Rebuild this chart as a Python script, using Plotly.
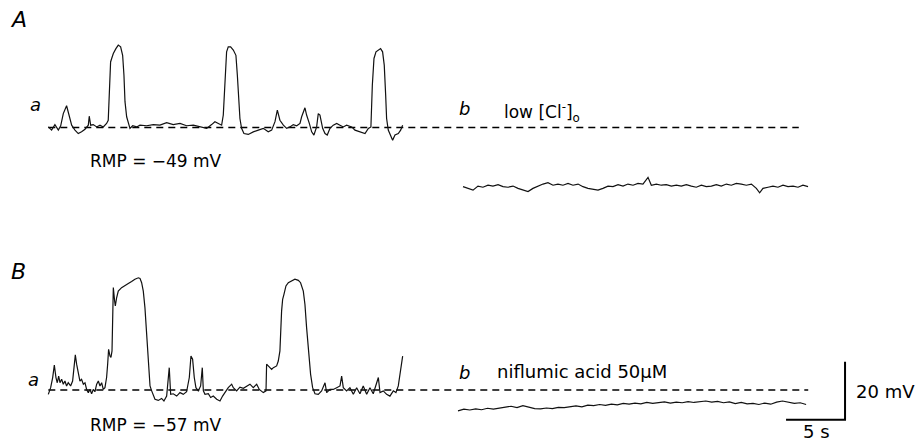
import plotly.graph_objects as go

# ---------------- data (time in s, membrane potential in mV relative to RMP) ----------------
rmp_A = -49
rmp_B = -57

t_Aa = [0.00, 0.28, 0.56, 0.85, 1.05, 1.27, 1.55, 1.78, 1.98, 2.26, 2.54, 2.82, 3.11, 3.39, 3.47, 3.59,
        3.81, 4.10, 4.38, 4.66, 4.94, 5.08, 5.17, 5.28, 5.37, 5.51, 5.73, 5.93, 6.13, 6.30, 6.41, 6.50,
        6.64, 6.78, 6.92, 7.15, 7.49, 7.77, 8.33, 8.90, 9.46, 10.03, 10.59, 11.16, 11.72, 12.29, 12.85,
        13.42, 13.84, 14.12, 14.41, 14.69, 14.83, 14.97, 15.11, 15.25, 15.45, 15.68, 15.90, 16.02, 16.13,
        16.24, 16.38, 16.58, 16.95, 17.37, 17.80, 18.22, 18.64, 18.93, 19.21, 19.41, 19.63, 19.92, 20.20,
        20.48, 20.76, 21.05, 21.33, 21.47, 21.75, 21.89, 22.12, 22.32, 22.51, 22.74, 22.88, 23.02, 23.25,
        23.45, 23.64, 23.87, 24.15, 24.44, 24.72, 25.00, 25.28, 25.71, 25.99, 26.41, 26.84, 27.12, 27.34,
        27.46, 27.60, 27.77, 27.97, 28.16, 28.33, 28.47, 28.59, 28.67, 28.81, 29.01, 29.18, 29.38, 29.66,
        29.86, 30.03]
v_Aa = [0.2, -0.9, 1.0, -0.9, 0.6, 4.8, 7.5, 4.3, 0.8, -0.9, -2.1, -1.5, -0.6, 0.8, 3.9, 0.8,
        1.0, 0.2, 0.8, 0.2, 1.4, 2.5, 11.2, 22.6, 23.8, 25.5, 27.2, 28.4, 27.8, 24.9, 18.1, 8.9,
        3.7, 1.4, -0.3, 0.6, 0.2, 0.8, 0.6, 1.0, 0.8, 1.7, 1.0, 1.4, 0.6, 0.8, 0.2,
        -0.3, 1.0, 2.0, 1.4, 0.8, 4.3, 18.1, 26.1, 27.8, 27.8, 26.7, 24.9, 18.1, 8.9,
        3.1, -0.3, -2.1, -2.4, -1.5, -0.9, -0.3, -1.5, -0.9, 2.0, 6.0, 2.5, 0.8, -0.3,
        0.2, 1.0, 0.6, 1.4, 3.7, 6.8, 4.3, 1.4, -1.5, -2.6, 0.2, 4.8, 4.3, -0.3,
        -2.1, -2.6, -0.3, 0.8, 1.4, 0.8, 0.2, 0.8, 0.2, -0.9, -1.5, -2.1, -0.3, 0.2,
        14.6, 23.8, 26.1, 26.7, 27.2, 26.1, 21.5, 11.2, 3.1, -0.9, -2.6, -4.4, -2.6, -2.1,
        -0.9, 0.8]

t_Ab = [0.00, 0.42, 0.85, 1.27, 1.69, 2.12, 2.54, 2.97, 3.39, 3.81, 4.24, 4.66, 5.08, 5.51, 5.93, 6.36,
        6.78, 7.20, 7.63, 8.05, 8.47, 8.90, 9.32, 9.75, 10.17, 10.59, 11.02, 11.44, 11.86, 12.29, 12.71,
        13.14, 13.56, 13.98, 14.41, 14.83, 15.25, 15.68, 15.96, 16.38, 16.81, 17.23, 17.66, 18.08, 18.50,
        18.93, 19.35, 19.77, 20.20, 20.62, 21.05, 21.47, 21.89, 22.32, 22.74, 23.16, 23.59, 24.01, 24.44,
        24.86, 25.14, 25.42, 25.85, 26.27, 26.69, 27.12, 27.54, 27.97, 28.39, 28.81, 29.24]
v_Ab = [-20.4, -21.0, -21.6, -20.2, -20.6, -19.9, -20.2, -19.7, -20.4, -20.6, -20.2, -21.0, -21.6, -22.1, -21.0, -20.2,
        -19.5, -19.0, -19.9, -19.5, -19.9, -19.3, -19.9, -19.5, -20.4, -21.0, -21.3, -21.6, -21.0, -20.2, -20.4,
        -19.7, -20.2, -19.5, -19.9, -19.3, -19.5, -17.2, -19.9, -19.5, -19.9, -19.7, -20.2, -19.9, -20.2,
        -19.7, -20.2, -20.6, -19.9, -20.4, -20.2, -19.7, -20.2, -19.5, -19.9, -19.3, -19.5, -19.9, -19.5,
        -21.0, -22.5, -21.0, -20.6, -20.2, -20.6, -19.9, -20.4, -20.2, -20.6, -19.9, -20.4]

t_Ba = [0.00, 0.20, 0.37, 0.51, 0.65, 0.76, 0.88, 0.99, 1.13, 1.27, 1.41, 1.55, 1.69, 1.89, 2.06, 2.18,
        2.29, 2.40, 2.54, 2.68, 2.82, 2.97, 3.11, 3.25, 3.39, 3.53, 3.67, 3.81, 3.95, 4.10, 4.24, 4.38,
        4.52, 4.66, 4.80, 4.94, 5.03, 5.11, 5.23, 5.31, 5.40, 5.45, 5.51, 5.62, 5.68, 5.79, 5.93, 6.21,
        6.50, 6.78, 7.06, 7.34, 7.63, 7.77, 7.91, 8.05, 8.19, 8.33, 8.47, 8.62, 8.76, 8.90, 9.04, 9.32,
        9.60, 9.80, 10.03, 10.25, 10.37, 10.59, 10.88, 11.16, 11.44, 11.72, 11.95, 12.09, 12.23, 12.37,
        12.51, 12.71, 12.91, 13.05, 13.14, 13.28, 13.56, 13.76, 13.98, 14.27, 14.55, 14.77, 14.97, 15.25,
        15.54, 15.68, 15.96, 16.24, 16.53, 16.81, 17.09, 17.37, 17.66, 17.88, 18.22, 18.45, 18.50, 18.64,
        18.79, 18.93, 19.07, 19.21, 19.35, 19.49, 19.63, 19.77, 19.86, 19.97, 20.14, 20.34, 20.62, 20.90,
        21.19, 21.38, 21.61, 21.75, 21.89, 22.06, 22.23, 22.40, 22.60, 22.88, 23.16, 23.45, 23.59, 23.87,
        24.15, 24.44, 24.72, 24.86, 25.00, 25.28, 25.56, 25.85, 26.13, 26.41, 26.69, 26.98, 27.26, 27.54,
        27.82, 27.97, 28.11, 28.39, 28.67, 28.95, 29.24, 29.46, 29.66, 29.80, 29.94, 30.03]
v_Ba = [-1.5, 0.8, 4.3, 8.6, 4.3, 2.5, 4.8, 2.5, 3.7, 2.0, 3.1, 1.4, 2.5, 1.4, 3.1, 8.9,
        12.1, 8.9, 5.4, 3.1, 3.7, 2.0, 2.5, 0.2, -0.9, 0.2, -1.3, 0.2, -0.6, 2.0, 3.1, 1.4,
        2.5, 0.2, 0.8, 4.3, 8.9, 14.0, 11.7, 11.2, 13.5, 21.5, 35.3, 30.7, 29.0, 31.8, 34.1, 35.3,
        35.9, 36.7, 37.4, 38.2, 38.7, 38.5, 37.0, 34.1, 28.4, 19.2, 8.9, 1.4, -0.3, -2.1, -3.2, -3.6,
        -2.9, -3.8, -2.1, 7.7, -1.5, -1.3, -2.1, -0.9, -1.5, -0.6, 4.3, 11.7, 10.6, 4.3,
        0.8, -0.3, 1.4, 7.7, -0.3, -1.5, -1.3, -2.6, -2.1, -3.2, -3.8, -2.1, -0.9, 0.8,
        2.0, 0.8, -0.3, 1.0, 0.6, 1.4, 2.0, 0.8, 2.0, 0.2, -0.9, -0.3, 8.9, 8.3,
        7.7, 7.1, 7.7, 7.9, 8.3, 10.0, 13.5, 27.2, 31.3, 33.0, 35.9, 37.0, 37.6, 38.2,
        37.8, 37.0, 34.1, 29.5, 21.5, 12.3, 5.4, 0.8, -1.3, -1.5, -0.3, 2.5, -0.9, 0.2,
        0.2, 0.8, 1.4, 4.8, 0.8, -0.3, 0.8, -1.5, 0.8, -1.3, 1.4, -1.5, 0.8, -1.3,
        2.5, 4.3, -0.9, -0.3, -1.5, -2.1, -0.3, -0.9, 1.4, 5.4, 7.7, 11.7]

t_Bb = [0.0, 0.5, 1.0, 1.5, 2.0, 2.5, 3.0, 3.5, 4.0, 4.5, 5.0, 5.5, 6.0, 6.5, 7.0, 7.5, 8.0, 8.5, 9.0, 9.5,
        10.0, 10.5, 11.0, 11.5, 12.0, 12.5, 13.0, 13.5, 14.0, 14.5, 15.0, 15.5, 16.0, 16.5, 17.0, 17.5,
        18.0, 18.5, 19.0, 19.5, 20.0, 20.5, 21.0, 21.5, 22.0, 22.5, 23.0, 23.5, 24.0, 24.5, 25.0, 25.5,
        26.0, 26.5, 27.0, 27.5, 28.0, 28.5, 29.0, 29.5]
v_Bb = [-7.2, -6.6, -6.9, -6.5, -6.8, -6.3, -6.6, -6.2, -6.0, -5.6, -6.1, -5.4, -5.9, -6.4, -6.5, -6.2, -6.4, -6.0, -6.1, -5.7,
        -5.5, -5.8, -5.2, -5.4, -5.0, -5.3, -4.9, -5.1, -4.6, -4.9, -4.5, -4.8, -4.3, -4.6, -4.4, -4.1,
        -4.5, -4.2, -4.4, -4.0, -4.3, -4.1, -3.8, -4.2, -3.9, -4.4, -4.1, -4.7, -4.3, -4.8, -4.6, -5.0,
        -4.5, -4.9, -4.2, -3.8, -4.3, -4.6, -4.4, -5.0]

# reference level (dashed line at RMP), extent in s along the panel-a time axis
ref_level = 0.0
dash_span_A = 63.6
dash_span_B = 64.4

# scale bar
scale_s = 5
scale_mV = 20

labels = {
    "rmpA": "RMP = \u221249 mV",
    "rmpB": "RMP = \u221257 mV",
    "condA": "low [Cl<sup>-</sup>]<sub>o</sub>",
    "condB": "niflumic acid 50\u03bcM",
}

# ---------------- layout helpers ----------------
W, H = 915, 442
PX_PER_S = 11.8
PX_PER_MV = 2.9
FONT = "DejaVu Sans"


def xr(origin_px):
    return [(0 - origin_px) / PX_PER_S, (W - origin_px) / PX_PER_S]


def yr(base_px, top_px, bottom_px):
    return [(base_px - bottom_px) / PX_PER_MV, (base_px - top_px) / PX_PER_MV]


fig = go.Figure()


def add_line(t, v, xa, ya, width=1.2, dash=None, color="#111111"):
    fig.add_trace(go.Scatter(x=t, y=v, mode="lines", xaxis=xa, yaxis=ya,
                             line=dict(color=color, width=width, dash=dash),
                             hoverinfo="skip", showlegend=False))


# dashed RMP reference lines
add_line([0, dash_span_A], [ref_level, ref_level], "x", "y", width=1.5, dash="7px,5px", color="#000")
add_line([0, dash_span_B], [ref_level, ref_level], "x3", "y2", width=1.5, dash="7px,5px", color="#000")

# voltage traces
add_line(t_Aa, v_Aa, "x", "y")
add_line(t_Ab, v_Ab, "x2", "y")
add_line(t_Ba, v_Ba, "x3", "y2")
add_line(t_Bb, v_Bb, "x4", "y2")

# scale bar (corner on the panel B-b axes)
corner_t, corner_v = 32.8, -10.3
add_line([corner_t - scale_s, corner_t, corner_t],
         [corner_v, corner_v, corner_v + scale_mV], "x4", "y2", width=2, color="#000")

ax_common = dict(visible=False, showgrid=False, zeroline=False, fixedrange=True)

fig.update_layout(
    width=W, height=H,
    margin=dict(l=0, r=0, t=0, b=0),
    paper_bgcolor="white", plot_bgcolor="rgba(0,0,0,0)",
    showlegend=False,
    xaxis=dict(domain=[0, 1], range=xr(48.3), anchor="y", **ax_common),
    xaxis2=dict(domain=[0, 1], range=xr(463), anchor="y", overlaying="x", **ax_common),
    xaxis3=dict(domain=[0, 1], range=xr(48.3), anchor="y2", **ax_common),
    xaxis4=dict(domain=[0, 1], range=xr(458), anchor="y2", overlaying="x3", **ax_common),
    yaxis=dict(domain=[0.5, 1], range=yr(127.5, 0, 221), anchor="x", **ax_common),
    yaxis2=dict(domain=[0, 0.5], range=yr(390, 221, 442), anchor="x3", **ax_common),
)


def ann(text, x_px, y_px, size, xanchor="center", italic=False):
    fig.add_annotation(text=text, x=x_px / W, y=1 - y_px / H, xref="paper", yref="paper",
                       xanchor=xanchor, yanchor="middle", showarrow=False,
                       font=dict(family=FONT, size=size, color="#000",
                                 style="italic" if italic else "normal"))


ann("A", 18, 20, 22, italic=True)
ann("B", 18, 271, 22, italic=True)
ann("a", 35, 104, 18, italic=True)
ann("a", 33, 379, 18, italic=True)
ann("b", 464, 108, 18, italic=True)
ann("b", 464, 372, 18, italic=True)
ann(labels["condA"], 502, 112, 17, xanchor="left")
ann(labels["condB"], 495, 371, 18, xanchor="left")
ann(labels["rmpA"], 156, 161, 17)
ann(labels["rmpB"], 156, 425, 17)
ann("20 mV", 854, 391, 18, xanchor="left")
ann("5 s", 816, 431, 18)

fig.write_html("out.html")
